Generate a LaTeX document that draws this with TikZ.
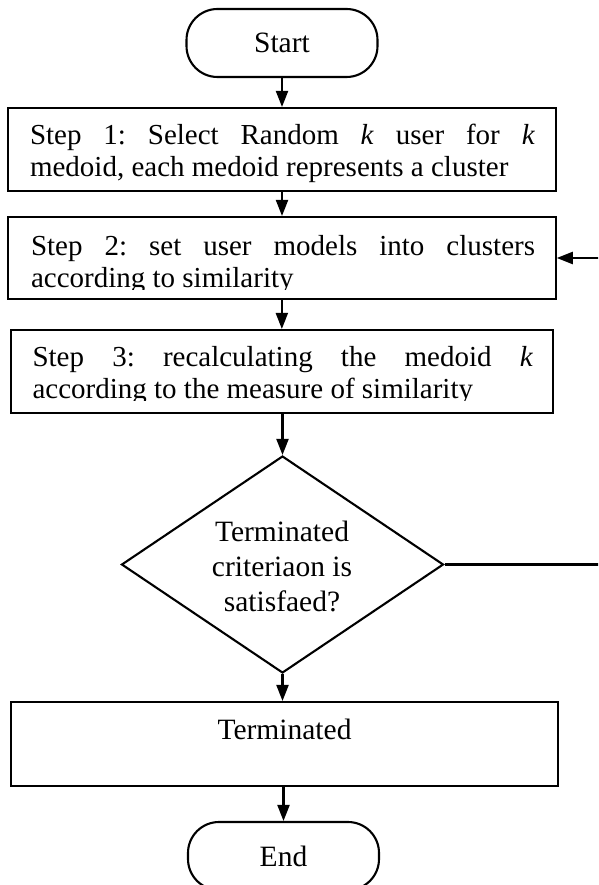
\documentclass[tikz,border=0pt]{standalone}
\usepackage{fontspec}
\setmainfont{Liberation Serif}
\usetikzlibrary{arrows.meta,shapes.geometric}
\frenchspacing

\begin{document}
\begin{tikzpicture}[x=1pt,y=-1pt,
  line width=2.1pt,
  flow/.style={-{Triangle[length=16pt,width=12pt]}},
  stepbox/.style={draw, rectangle, inner sep=0pt},
  terminal/.style={draw, rectangle, rounded corners=31pt, inner sep=0pt,
    minimum width=191pt, minimum height=68pt, font=\fontsize{29.5}{34}\selectfont},
  steptext/.style={anchor=base west, inner sep=0pt, font=\fontsize{29}{32}\selectfont},
  plaintext/.style={anchor=base, inner sep=0pt, font=\fontsize{29.5}{35}\selectfont},
]
\useasboundingbox (0,0) rectangle (598,885);
\clip (0,0) rectangle (598,885);

% start terminal
\node[terminal] (start) at (282,43) {Start};

% step 1
\node[stepbox, minimum width=548pt, minimum height=83pt] (s1) at (282,149.5) {};
\node[steptext] (s1txt) at (29,145)
  {\parbox[t]{505pt}{Step 1: Select Random \textit{k} user for \textit{k}\linebreak
   medoid, each medoid represents a cluster}};

% step 2 (text clipped to the inner frame)
\node[stepbox, minimum width=547.7pt, minimum height=82pt] (s2) at (281.85,258) {};
\begin{scope}
  \clip (9,217) rectangle (556,289);
  \node[steptext] (s2txt) at (30,255)
    {\parbox[t]{504pt}{Step 2: set user models into clusters\linebreak
     according to similarity}};
\end{scope}

% step 3
\node[stepbox, minimum width=542.3pt, minimum height=83pt] (s3) at (281.85,371.5) {};
\begin{scope}
  \clip (11,330) rectangle (553,400);
  \node[steptext] (s3txt) at (31.5,366)
    {\parbox[t]{500.5pt}{Step 3: recalculating the medoid \textit{k}\linebreak
     according to the measure of similarity}};
\end{scope}

% decision
\node[draw, diamond, aspect=1.48, minimum width=322pt, minimum height=217pt,
  inner sep=0pt] (dec) at (282.5,564.5) {};
\node[plaintext] (dectxt) at (282,541.7)
  {\parbox[t]{220pt}{\centering Terminated\\ criteriaon is\\ satisfaed?}};

% terminated box
\node[stepbox, minimum width=547.3pt, minimum height=84pt] (term) at (284.35,744) {};
\node[plaintext] (termtxt) at (284.5,739) {Terminated};

% end terminal
\node[terminal] (end) at (283.5,856) {End};

% connectors
\draw[flow] (start.south) -- (start.south |- s1.north);
\draw[flow] (s1.south) -- (s1.south |- s2.north);
\draw[flow] (s2.south) -- (s2.south |- s3.north);
\draw[flow] (dec.north |- s3.south) -- (dec.north);
\draw[flow] (dec.south) -- (dec.south |- term.north);
\draw[flow] (term.south -| end.north) -- (end.north);

% feedback loop back to step 2
\coordinate (loopx) at (606,0);
\draw[flow] (dec.east) -- (dec.east -| loopx) -- (s2.east -| loopx) -- (s2.east);
\end{tikzpicture}
\end{document}
